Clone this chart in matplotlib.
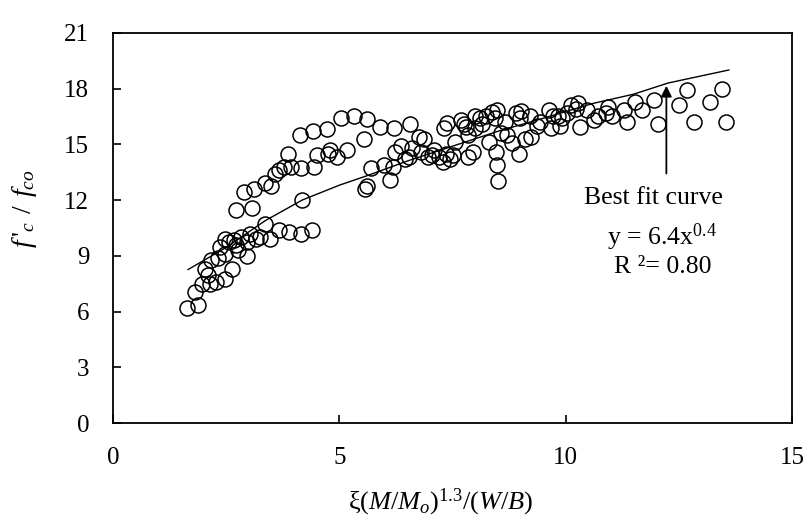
import numpy as np
import matplotlib
matplotlib.use("Agg")
import matplotlib.pyplot as plt

plt.rcParams['font.family'] = ['Liberation Serif', 'DejaVu Serif']
plt.rcParams['mathtext.fontset'] = 'custom'
plt.rcParams['mathtext.rm'] = 'Liberation Serif'
plt.rcParams['mathtext.it'] = 'Liberation Serif:italic'

# test points
x_pts = [1.63, 1.88, 1.81, 1.96, 2.14, 2.28, 2.47, 2.62, 2.04, 2.16, 2.32, 2.47, 2.97, 2.37,
         2.57, 2.47, 2.72, 2.82, 2.67, 3.02, 3.17, 3.25, 3.37, 3.47, 3.67, 3.9, 4.15, 4.4,
         4.18, 2.09, 2.77, 2.97,
         2.72, 3.07, 2.9, 3.12, 3.35, 3.49, 3.57, 3.67, 3.78, 3.93, 3.86, 4.16, 4.43, 4.5,
         4.76, 4.8, 4.95, 5.17, 4.13, 4.41, 4.73, 5.04, 5.32, 5.62, 5.89, 5.54, 6.21, 6.57,
         5.57, 5.61, 5.69, 5.99, 6.11, 6.19, 6.24, 6.37, 6.44, 6.54, 6.6, 6.75, 6.88, 6.95,
         7.1, 7.2, 7.28, 7.35, 7.5, 7.3, 7.38, 7.55, 7.68, 7.8, 7.85, 7.85, 7.99, 8.0, 7.95,
         8.16, 8.23, 8.31, 8.43, 8.49, 8.46, 8.48, 8.51, 8.56, 8.66, 8.81, 8.91, 8.96, 8.99,
         9.11, 9.01, 9.23, 9.44, 9.62, 9.67, 9.72, 9.87, 9.92, 10.02, 10.12, 10.27, 10.32,
         10.47, 10.62, 10.7, 10.93, 11.03, 11.28, 11.35, 11.53, 11.68, 11.95, 12.03, 12.49,
         12.67, 12.82, 13.19, 13.44, 13.54,
         7.75, 8.11, 8.36, 8.71, 9.21, 9.36, 9.82, 10.22, 10.88, 6.8, 7.05, 7.45]
y_pts = [6.2, 6.35, 7.07, 7.5, 7.5, 7.6, 7.77, 8.3, 8.3, 8.76, 8.9, 9.1, 9.0, 9.5,
         9.75, 9.93, 9.57, 10.0, 9.84, 10.2, 9.93, 10.0, 10.7, 9.93, 10.4, 10.3, 10.2, 10.4,
         12.0, 7.95, 9.3, 9.75,
         11.46, 11.55, 12.45, 12.6, 12.9, 12.75, 13.4, 13.6, 13.8, 13.8, 14.5, 13.75, 13.8, 14.4,
         14.5, 14.7, 14.3, 14.7, 15.5, 15.7, 15.8, 16.4, 16.5, 16.35, 15.95, 15.3, 15.86, 16.1,
         12.6, 12.75, 13.7, 13.9, 13.1, 13.8, 14.6, 14.9, 14.2, 14.3, 14.8, 15.4, 15.3, 14.3,
         14.7, 14.3, 14.06, 14.5, 14.4, 15.86, 16.13, 15.1, 16.3, 15.95, 14.3, 15.5, 16.5, 15.9, 14.6,
         16.1, 16.5, 15.1, 16.4, 16.85, 14.6, 13.9, 13.0, 15.6, 16.2, 15.05, 16.7, 14.5, 16.4,
         15.3, 16.8, 15.4, 16.2, 16.85, 15.86, 16.5, 16.0, 16.4, 16.7, 17.1, 17.2, 15.95,
         16.85, 16.3, 16.5, 17.0, 16.5, 16.85, 16.2, 17.3, 16.85, 17.4, 16.1, 17.1,
         17.9, 16.2, 17.3, 17.97, 16.2,
         16.1, 16.4, 16.76, 15.5, 16.5, 16.0, 16.5, 16.9, 16.7, 14.6, 14.4, 14.2]

# best fit curve
x_fit = [1.66, 2.5, 3.37, 4.18, 5.0, 5.6, 6.5, 7.5, 8.5, 9.5, 10.6, 11.5, 12.26, 13.6]
y_fit = [8.26, 9.45, 10.9, 12.0, 12.8, 13.3, 14.1, 14.9, 15.7, 16.4, 17.2, 17.7, 18.3, 19.0]

x_ticks = [0, 5, 10, 15]
y_ticks = [0, 3, 6, 9, 12, 15, 18, 21]

fig = plt.figure(figsize=(8.06, 5.21), dpi=100)
ax = fig.add_axes([0.140, 0.188, 0.843, 0.749])

ax.plot(x_fit, y_fit, color='black', lw=1.0, zorder=2)
ax.plot(x_pts, y_pts, 'o', mfc='none', mec='black', ms=10.8, mew=1.1, zorder=3)

ax.annotate('', xy=(12.22, 18.3), xytext=(12.22, 13.28),
            arrowprops=dict(arrowstyle='-|>', color='black', lw=1.3, mutation_scale=16))
ax.text(11.93, 12.09, 'Best fit curve', ha='center', va='center', fontsize=18.5)
ax.text(12.13, 9.98, r'y = 6.4x$^{0.4}$', ha='center', va='center', fontsize=18.5)
ax.text(12.15, 8.42, 'R ²= 0.80', ha='center', va='center', fontsize=18.5)

ax.set_xlim(0, 15)
ax.set_ylim(0, 21)
ax.set_xticks(x_ticks)
ax.set_yticks(y_ticks)
ax.tick_params(direction='in', length=6, width=1.2, labelsize=18, pad=17)
for s in ax.spines.values():
    s.set_linewidth(1.3)

ax.set_xlabel(r'ξ$(M/M_o)^{1.3}/(W/B)$', fontsize=19)
ax.xaxis.set_label_coords(0.482, -0.163)
ax.set_ylabel(r"$f\,'_{c}\;\,/\;\,f_{co}$", fontsize=20)
ax.yaxis.set_label_coords(-0.108, 0.55)

fig.savefig('out.png', dpi=100)
